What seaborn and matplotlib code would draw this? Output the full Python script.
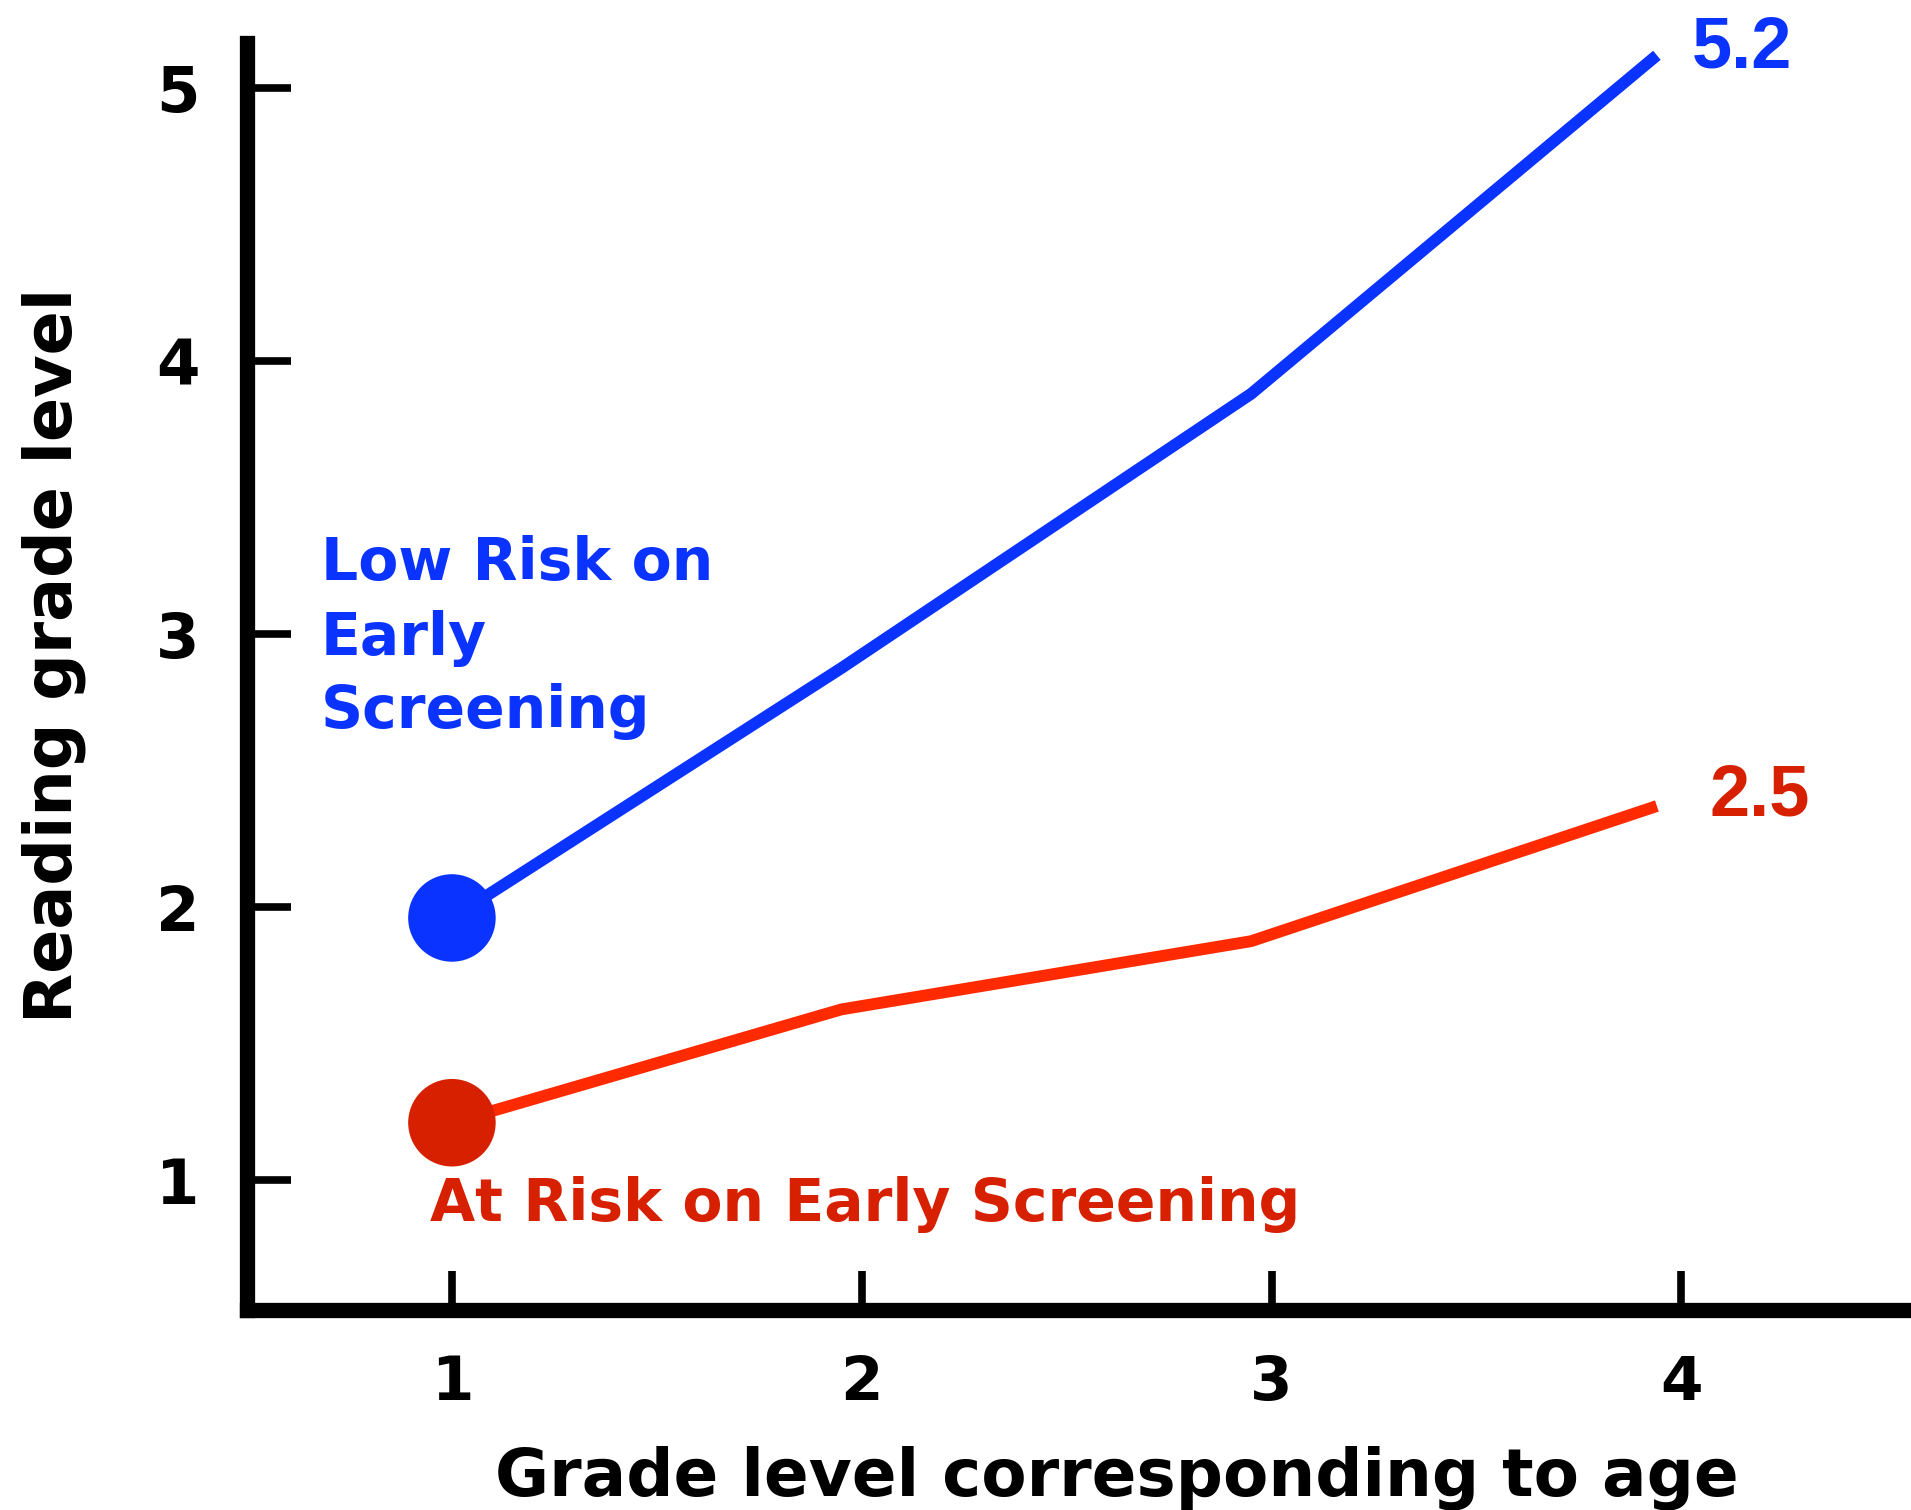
import pandas as pd
import seaborn as sns
import matplotlib.pyplot as plt

# values
grade_age = [1.0, 1.95, 2.95, 3.94]
low_risk = [1.96, 2.875, 3.88, 5.12]
at_risk = [1.21, 1.625, 1.875, 2.37]
groups = ['Low Risk on Early Screening', 'At Risk on Early Screening']
end_labels = ['5.2', '2.5']
x_ticks = [1, 2, 3, 4]
y_ticks = [1, 2, 3, 4, 5]

blue = '#0B33FF'
red_line = '#FF2A00'
red = '#D62000'

df = pd.DataFrame({
    'grade': grade_age + grade_age,
    'reading': low_risk + at_risk,
    'group': [groups[0]] * 4 + [groups[1]] * 4,
})
starts = df.groupby('group', sort=False).first().reset_index()

sns.set_style('white')
plt.rcParams['font.family'] = ['DejaVu Sans']
plt.rcParams['text.color'] = 'black'

W, H = 1911, 1510
fig = plt.figure(figsize=(W / 100, H / 100), dpi=100)
ax = fig.add_axes([247 / W, 1 - 1310 / H, 1 - 247 / W, (1310 - 43) / H])


def fx(px):
    return px / W


def fy(py):
    return 1 - py / H


sns.lineplot(data=df, x='grade', y='reading', hue='group', estimator=None, sort=False,
             palette={groups[0]: blue, groups[1]: red_line}, linewidth=8.5,
             legend=False, ax=ax, solid_capstyle='butt')
sns.scatterplot(data=starts, x='grade', y='reading', hue='group',
                palette={groups[0]: blue, groups[1]: red}, s=3970, linewidth=0,
                legend=False, ax=ax, zorder=5)

ax.set_xlim(0.5, 4.56)
ax.set_ylim(0.524, 5.165)
ax.set_xticks(x_ticks)
ax.set_yticks(y_ticks)
ax.set_xticklabels([str(v) for v in x_ticks], fontsize=44, fontweight='bold')
ax.set_yticklabels([str(v) for v in y_ticks], fontsize=45, fontweight='bold')
ax.tick_params(axis='x', bottom=True, direction='in', length=28, width=5.5, pad=32,
               color='black', labelcolor='black')
ax.tick_params(axis='y', left=True, direction='in', length=32, width=5.5, pad=34,
               color='black', labelcolor='black')
ax.set_xlabel('')
ax.set_ylabel('')
for side in ['top', 'right']:
    ax.spines[side].set_visible(False)
for side in ['left', 'bottom']:
    ax.spines[side].set_linewidth(11)
    ax.spines[side].set_color('black')

# group labels
fig.text(fx(321), fy(580), 'Low Risk on', color=blue, fontsize=42, fontweight='bold',
         ha='left', va='baseline')
fig.text(fx(321), fy(655), 'Early', color=blue, fontsize=42, fontweight='bold',
         ha='left', va='baseline')
fig.text(fx(321), fy(728), 'Screening', color=blue, fontsize=42, fontweight='bold',
         ha='left', va='baseline')
fig.text(fx(430), fy(1221), groups[1], color=red, fontsize=42, fontweight='bold',
         ha='left', va='baseline')

# end values
fig.text(fx(1692), fy(67), end_labels[0], color=blue, fontsize=52, fontweight='bold',
         family='Liberation Sans', ha='left', va='baseline')
fig.text(fx(1710), fy(815), end_labels[1], color=red, fontsize=52, fontweight='bold',
         family='Liberation Sans', ha='left', va='baseline')

# axis titles
fig.text(fx(495), fy(1496), 'Grade level corresponding to age', fontsize=47.5,
         fontweight='bold', ha='left', va='baseline')
fig.text(fx(54), fy(655), 'Reading grade level', fontsize=47, fontweight='bold',
         rotation=90, ha='center', va='center')

plt.savefig('out.png', dpi=100)
